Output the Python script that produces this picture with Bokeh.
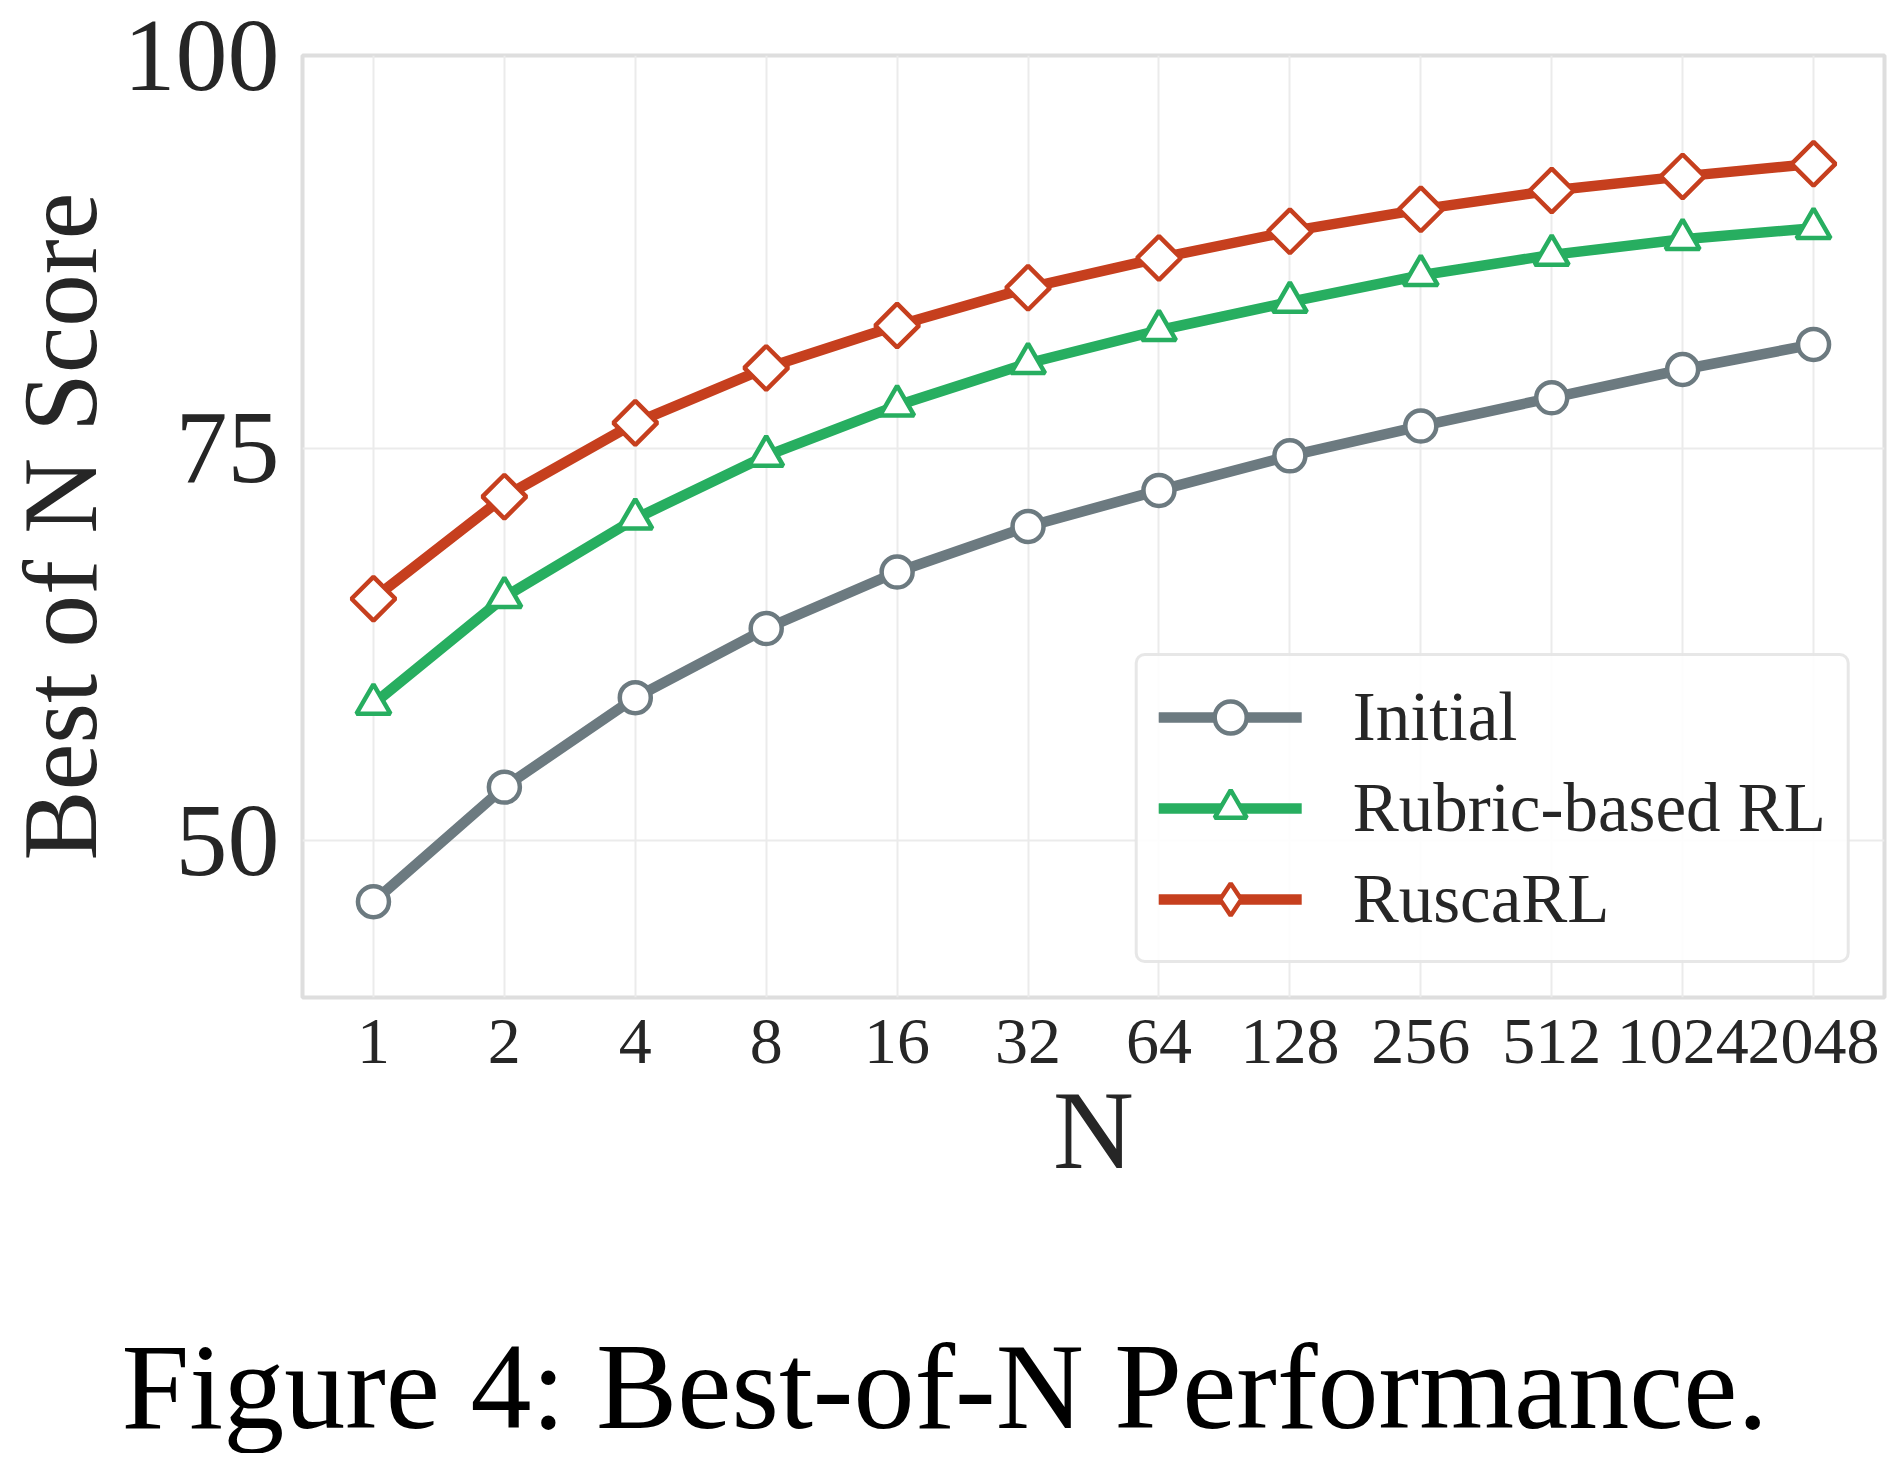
import numpy as np
from bokeh.plotting import figure
from bokeh.models import (Range1d, FixedTicker, CustomJSTickFormatter, Legend, LegendItem,
                          Title)
from bokeh.embed import file_html
from bokeh.resources import INLINE

# ---- data ----
N = [1, 2, 4, 8, 16, 32, 64, 128, 256, 512, 1024, 2048]
initial = [46.1, 53.4, 59.1, 63.5, 67.1, 70.0, 72.3, 74.5, 76.4, 78.2, 80.0, 81.6]
rubric = [58.7, 65.5, 70.5, 74.5, 77.7, 80.4, 82.5, 84.3, 86.0, 87.3, 88.3, 89.0]
ruscarl = [65.4, 71.9, 76.6, 80.1, 82.8, 85.2, 87.1, 88.8, 90.2, 91.4, 92.3, 93.1]
y_ticks = [50, 75, 100]
series_names = ["Initial", "Rubric-based RL", "RuscaRL"]
x_title = "N"
y_title = "Best of N Score"
caption = "Figure 4: Best-of-N Performance."

FONT = "Liberation Serif"
TXT = "#262626"

p = figure(
    width=1900, height=1464,
    frame_width=1582, frame_height=942,
    x_axis_type="log",
    x_range=Range1d(2 ** -0.542, 2 ** 11.542),
    y_range=Range1d(40, 100),
    output_backend="svg", toolbar_location=None,
    min_border_left=302, min_border_top=55, min_border_right=16, min_border_bottom=10,
    background_fill_color="white", border_fill_color="white",
)

p.outline_line_color = "#dedede"
p.outline_line_width = 4

xt = FixedTicker(ticks=N, minor_ticks=[])
yt = FixedTicker(ticks=y_ticks, minor_ticks=[])
p.xaxis.ticker = xt
p.yaxis.ticker = yt
p.xgrid.ticker = xt
p.ygrid.ticker = yt
p.xaxis.formatter = CustomJSTickFormatter(code="return Math.round(tick).toString();")

for g in (p.xgrid, p.ygrid):
    g.grid_line_color = "#ebebeb"
    g.grid_line_width = 2

for ax in (p.xaxis, p.yaxis):
    ax.axis_line_color = None
    ax.major_tick_line_color = None
    ax.minor_tick_line_color = None
    ax.major_tick_out = 0
    ax.major_tick_in = 0
    ax.major_label_text_font = FONT
    ax.major_label_text_color = TXT
    ax.axis_label_text_font = FONT
    ax.axis_label_text_color = TXT
    ax.axis_label_text_font_style = "normal"

p.xaxis.axis_label = x_title
p.xaxis.axis_label_text_font_size = "112px"
p.xaxis.major_label_text_font_size = "66px"
p.xaxis.major_label_standoff = 22
p.xaxis.axis_label_standoff = 2

p.yaxis.major_label_text_font_size = "104px"
p.yaxis.major_label_standoff = 23

# y-axis title in its own left panel, hugging the page edge
ytitle = Title(text=y_title, align="center", vertical_align="top", standoff=-1,
               text_font=FONT, text_font_size="105px", text_font_style="normal",
               text_color=TXT)
p.add_layout(ytitle, "left")

colors = ["#6c7a80", "#27ae60", "#c63f1e"]
markers = ["circle", "triangle", "square"]
legend_markers = ["circle", "triangle", "diamond"]
angles = [0, 0, np.pi / 4]
sizes = [31, 34, 31]
data = [initial, rubric, ruscarl]

items = []
for name, ys, c, m, lm, a, s in zip(series_names, data, colors, markers, legend_markers,
                                    angles, sizes):
    lr = p.line(N, ys, line_color=c, line_width=10.5, line_cap="round", line_join="round")
    rends = [lr]
    if lm != m:
        # legend-shape twin, fully hidden beneath the plotted marker
        hid = p.scatter(N, ys, marker=lm, size=s - 2, fill_color="white", line_color=c,
                        line_width=4.5)
        rends.append(hid)
    sr = p.scatter(N, ys, marker=m, angle=a, size=s, fill_color="white", line_color=c,
                   line_width=4.5)
    if lm == m:
        rends.append(sr)
    items.append(LegendItem(label=name, renderers=rends))

lg = Legend(items=items)
lg.location = "bottom_right"
lg.margin = 34
lg.padding = 21
lg.spacing = 11
lg.glyph_width = 143
lg.glyph_height = 80
lg.label_standoff = 51
lg.label_text_font = FONT
lg.label_text_font_size = "69px"
lg.label_text_color = TXT
lg.border_line_color = "#d0d0d0"
lg.border_line_width = 3
lg.background_fill_color = "white"
lg.background_fill_alpha = 0.9
if "border_radius" in Legend.properties():
    lg.border_radius = 10
p.add_layout(lg)

cap = Title(text="\n" + caption, align="left", offset=-181, vertical_align="bottom",
            standoff=0, text_font=FONT, text_font_size="122px", text_font_style="normal",
            text_color="black", text_line_height=0.90)
p.add_layout(cap, "below")

open("out.html", "w").write(file_html(p, INLINE))
